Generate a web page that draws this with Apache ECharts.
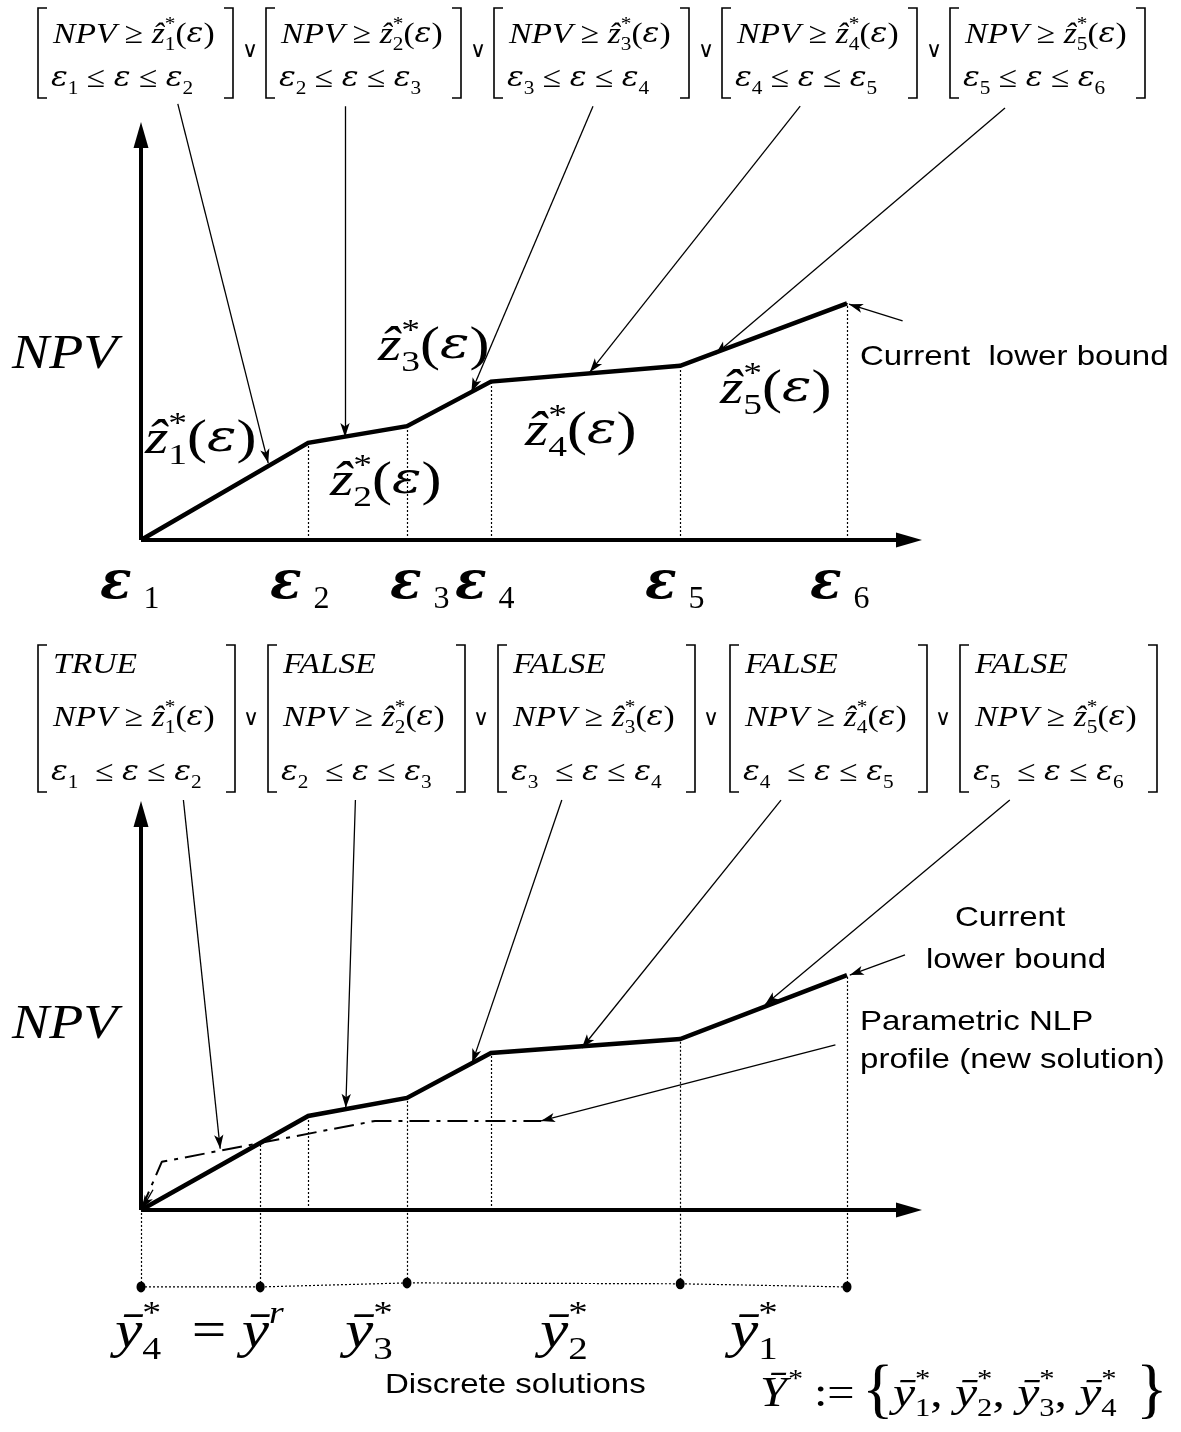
<!DOCTYPE html>
<html>
<head>
<meta charset="utf-8">
<script src="https://cdn.jsdelivr.net/npm/echarts@6/dist/echarts.min.js"></script>
<style>
  html, body { margin: 0; padding: 0; background: #fff; }
  #chart { width: 1181px; height: 1432px; }
</style>
</head>
<body>
<div id="chart"></div>
<script>
// ε breakpoints ε1..ε6 (horizontal units, shared by both panels)
const epsBreaks = [0, 2.09, 3.325, 4.375, 6.74, 8.825];
// piecewise-linear lower bound on NPV at each breakpoint
const lowerBoundTop = [0, 21.6, 25.3, 35.2, 38.7, 52.6];
const lowerBoundBottom = [0, 20.9, 24.9, 34.9, 38.0, 52.2];
// parametric NLP profile of the new discrete solution (dash-dot curve)
const nlpProfileX = [0, 0.26, 2.925, 5.0];
const nlpProfileY = [0, 10.7, 19.8, 19.8];
// discrete solutions marked below the ε axis
const solutionX = [0, 1.49, 3.325, 6.74, 8.825];
const solutionY = [-17.1, -17.1, -16.2, -16.4, -17.1];
// point where the new profile crosses the current lower bound
const crossingX = 1.49;
const crossingY = 14.9;
// axis extents (arrow positions)
const axisEndX = 9.6;
const axisEndYTop = 90;
const axisEndYBottom = 88;
// annotation arrows: [from, to]
const topArrows = [
  [[0.46, 96.9], [1.59, 17.1]],
  [[2.55, 96.4], [2.55, 22.9]],
  [[5.65, 96.4], [4.13, 32.9]],
  [[8.24, 96.4], [5.61, 37.3]],
  [[10.8, 96.0], [7.18, 41.3]],
  [[9.52, 48.7], [8.85, 52.4]]
];
const bottomArrows = [
  [[0.53, 91.1], [0.99, 13.6]],
  [[2.68, 91.1], [2.56, 22.7]],
  [[5.26, 91.1], [4.14, 32.7]],
  [[8.00, 91.1], [5.51, 36.0]],
  [[10.86, 91.1], [7.80, 45.6]],
  [[9.55, 56.7], [8.86, 52.2]],
  [[8.68, 36.7], [5.00, 19.8]],
  [[0.15, 4.5], [0.01, 0.2]]
];

const SERIF = "'Liberation Serif', 'DejaVu Serif', serif";
const GREEK = "'DejaVu Serif', 'Liberation Serif', serif";
const SANS = "'Liberation Sans', Arial, sans-serif";

const pairs = (xs, ys) => xs.map((x, i) => [x, ys[i]]);
const segs = list => list.map(([a, b]) => [{ coord: a }, { coord: b }]);

// hosts a set of marker lines on a panel
function lineSet(panel, data, symbol, size, lineStyle, z) {
  return {
    type: 'line', xAxisIndex: panel, yAxisIndex: panel, data: [], silent: true, z: z,
    markLine: {
      silent: true, animation: false, symbol: symbol, symbolSize: size,
      label: { show: false }, emphasis: { disabled: true },
      lineStyle: lineStyle, data: data
    }
  };
}

const dotted = { color: '#000', width: 1.2, type: [2, 2] };
const thin = { color: '#000', width: 1.3, type: 'solid' };
const thick = { color: '#000', width: 4, type: 'solid' };

const topDrops = epsBreaks.slice(1).map((x, i) => [[x, 0], [x, lowerBoundTop[i + 1]]]);
const bottomDrops = [
  [[solutionX[0], solutionY[0]], [0, 0]],
  [[crossingX, solutionY[1]], [crossingX, crossingY]],
  [[epsBreaks[1], 0], [epsBreaks[1], lowerBoundBottom[1]]],
  [[epsBreaks[2], solutionY[2]], [epsBreaks[2], lowerBoundBottom[2]]],
  [[epsBreaks[3], 0], [epsBreaks[3], lowerBoundBottom[3]]],
  [[epsBreaks[4], solutionY[3]], [epsBreaks[4], lowerBoundBottom[4]]],
  [[epsBreaks[5], solutionY[4]], [epsBreaks[5], lowerBoundBottom[5]]]
];

// ---------- text helpers ----------
function mathRich(s) {
  const lh = Math.round(s * 1.3);
  const small = Math.round(s * 0.62);
  return {
    it: { fontFamily: SERIF, fontStyle: 'italic', fontSize: s, lineHeight: lh },
    ep: { fontFamily: GREEK, fontStyle: 'italic', fontSize: Math.round(s * 0.92), lineHeight: lh },
    rm: { fontFamily: SERIF, fontSize: s, lineHeight: lh },
    sup: { fontFamily: SERIF, fontSize: small, lineHeight: small, verticalAlign: 'top', width: 0 },
    supw: { fontFamily: SERIF, fontStyle: 'italic', fontSize: small, lineHeight: small, verticalAlign: 'top' },
    sub: { fontFamily: SERIF, fontSize: small, lineHeight: small, verticalAlign: 'bottom' }
  };
}
function txt(x, y, text, rich, sx) {
  return {
    type: 'text', x: x, y: y, scaleX: sx || 1, silent: true, z: 100,
    style: {
      text: text, rich: rich, fill: '#000',
      align: 'left', verticalAlign: 'middle', textAlign: 'left', textVerticalAlign: 'middle'
    }
  };
}
function plain(x, y, text, font, align, sx) {
  return {
    type: 'text', x: x, y: y, scaleX: sx || 1, silent: true, z: 100,
    style: {
      text: text, font: font, fill: '#000',
      align: align || 'left', verticalAlign: 'middle',
      textAlign: align || 'left', textVerticalAlign: 'middle'
    }
  };
}
function bracket(x, top, bottom, dir) {
  return {
    type: 'polyline', silent: true, z: 100,
    shape: { points: [[x + 9 * dir, top], [x, top], [x, bottom], [x + 9 * dir, bottom]] },
    style: { stroke: '#000', lineWidth: 1.6, fill: null }
  };
}

const graphics = [];
const boxRich = mathRich(30);
const BOX_SX = 1.12;

// top-panel disjunction boxes
const topBoxLeft = [38, 266, 494, 722, 950];
topBoxLeft.forEach((L, i) => {
  const R = L + 195;
  graphics.push(bracket(L, 8, 98, 1), bracket(R, 8, 98, -1));
  graphics.push(txt(L + 15, 35,
    `{it|NPV}{rm| ≥ }{it|ẑ}{sup|*}{sub|${i + 1}}{rm|(}{ep|ε}{rm|)}`, boxRich, BOX_SX));
  graphics.push(txt(L + 13, 79,
    `{ep|ε}{sub|${i + 1}}{rm| ≤ }{ep|ε}{rm| ≤ }{ep|ε}{sub|${i + 2}}`, boxRich, BOX_SX));
  if (i < 4) graphics.push(plain(L + 212, 51, '∨', `22px ${GREEK}`, 'center'));
});

// bottom-panel disjunction boxes
const bottomBoxLeft = [38, 268, 498, 730, 960];
const bottomFlags = ['TRUE', 'FALSE', 'FALSE', 'FALSE', 'FALSE'];
bottomBoxLeft.forEach((L, i) => {
  const R = L + 197;
  graphics.push(bracket(L, 645, 792, 1), bracket(R, 645, 792, -1));
  graphics.push(txt(L + 15, 665, `{it|${bottomFlags[i]}}`, boxRich, BOX_SX));
  graphics.push(txt(L + 15, 718,
    `{it|NPV}{rm| ≥ }{it|ẑ}{sup|*}{sub|${i + 1}}{rm|(}{ep|ε}{rm|)}`, boxRich, BOX_SX));
  graphics.push(txt(L + 13, 773,
    `{ep|ε}{sub|${i + 1}}{rm|  ≤ }{ep|ε}{rm| ≤ }{ep|ε}{sub|${i + 2}}`, boxRich, BOX_SX));
  if (i < 4) graphics.push(plain(L + 213, 719, '∨', `22px ${GREEK}`, 'center'));
});

// NPV axis titles
const npvRich = mathRich(48);
graphics.push(txt(12, 355, '{it|NPV}', npvRich, 1.16));
graphics.push(txt(12, 1025, '{it|NPV}', npvRich, 1.16));

// segment labels ẑ_i*(ε)
const bigRich = mathRich(48);
const zLabels = [[145, 440, 1], [330, 482, 2], [378, 347, 3], [525, 432, 4], [720, 390, 5]];
zLabels.forEach(([x, y, k]) => {
  graphics.push(txt(x, y, `{it|ẑ}{sup|*}{sub|${k}}{rm|(}{ep|ε}{rm|)}`, bigRich, 1.25));
});

// ε tick labels under the top axis
const epsRich = {
  e: { fontFamily: GREEK, fontStyle: 'italic', fontWeight: 'bold', fontSize: 52, lineHeight: 64 },
  s: { fontFamily: SERIF, fontSize: 32, lineHeight: 32, verticalAlign: 'bottom', padding: [0, 0, 0, 12] }
};
const epsLabelX = [100, 270, 390, 455, 645, 810];
epsLabelX.forEach((x, i) => {
  graphics.push(txt(x, 584, `{e|ε}{s|${i + 1}}`, epsRich));
});

// side notes
const NOTE = `28px ${SANS}`;
const NOTE_SX = 1.18;
graphics.push(plain(860, 357, 'Current  lower bound', NOTE, 'left', NOTE_SX));
graphics.push(plain(1010, 918, 'Current', NOTE, 'center', NOTE_SX));
graphics.push(plain(1016, 960, 'lower bound', NOTE, 'center', NOTE_SX));
graphics.push(plain(860, 1022, 'Parametric NLP', NOTE, 'left', NOTE_SX));
graphics.push(plain(860, 1060, 'profile (new solution)', NOTE, 'left', NOTE_SX));
graphics.push(plain(385, 1385, 'Discrete solutions', NOTE, 'left', NOTE_SX));

// discrete-solution labels
const yRich = mathRich(52);
graphics.push(txt(115, 1333, '{it|ȳ}{sup|*}{sub|4}{rm|  = }{it|ȳ}{supw|r}', yRich, 1.18));
graphics.push(txt(345, 1333, '{it|ȳ}{sup|*}{sub|3}', yRich, 1.22));
graphics.push(txt(540, 1333, '{it|ȳ}{sup|*}{sub|2}', yRich, 1.22));
graphics.push(txt(730, 1333, '{it|ȳ}{sup|*}{sub|1}', yRich, 1.22));

// set of discrete solutions
const setRich = mathRich(42);
graphics.push(txt(760, 1395, '{it|Ȳ}{supw|*}{rm| :=}', setRich, 1.15));
graphics.push(plain(862, 1393, '{', `66px ${SERIF}`));
graphics.push(txt(893, 1395,
  '{it|ȳ}{sup|*}{sub|1}{rm|, }{it|ȳ}{sup|*}{sub|2}{rm|, }{it|ȳ}{sup|*}{sub|3}{rm|, }{it|ȳ}{sup|*}{sub|4}',
  setRich, 1.18));
graphics.push(plain(1136, 1393, '}', `66px ${SERIF}`));

const chart = echarts.init(document.getElementById('chart'), null, { renderer: 'canvas' });
chart.setOption({
  animation: false,
  backgroundColor: '#fff',
  grid: [
    { left: 141, top: 90, width: 1040, height: 450 },
    { left: 141, top: 782.5, width: 1040, height: 517.5 }
  ],
  xAxis: [
    { gridIndex: 0, type: 'value', min: 0, max: 13, show: false },
    { gridIndex: 1, type: 'value', min: 0, max: 13, show: false }
  ],
  yAxis: [
    { gridIndex: 0, type: 'value', min: 0, max: 100, show: false },
    { gridIndex: 1, type: 'value', min: -20, max: 95, show: false }
  ],
  series: [
    // top panel
    lineSet(0, segs(topDrops), 'none', 0, dotted, 2),
    lineSet(0, segs([[[0, 0], [axisEndX, 0]], [[0, 0], [0, axisEndYTop]]]),
      ['none', 'triangle'], [15, 26], thick, 3),
    lineSet(0, segs(topArrows), ['none', 'arrow'], [7, 14], thin, 4),
    {
      type: 'line', xAxisIndex: 0, yAxisIndex: 0, z: 5, silent: true,
      data: pairs(epsBreaks, lowerBoundTop), symbol: 'none',
      lineStyle: { color: '#000', width: 4.5, join: 'miter' }
    },
    // bottom panel
    lineSet(1, segs(bottomDrops), 'none', 0, dotted, 2),
    lineSet(1, segs([[[0, 0], [axisEndX, 0]], [[0, 0], [0, axisEndYBottom]]]),
      ['none', 'triangle'], [15, 26], thick, 3),
    lineSet(1, segs(bottomArrows), ['none', 'arrow'], [7, 14], thin, 4),
    {
      type: 'line', xAxisIndex: 1, yAxisIndex: 1, z: 5, silent: true,
      data: pairs(epsBreaks, lowerBoundBottom), symbol: 'none',
      lineStyle: { color: '#000', width: 4.5, join: 'miter' }
    },
    {
      type: 'line', xAxisIndex: 1, yAxisIndex: 1, z: 4, silent: true,
      data: pairs(nlpProfileX, nlpProfileY), symbol: 'none',
      lineStyle: { color: '#000', width: 2, type: [20, 7, 4, 7] }
    },
    {
      type: 'line', xAxisIndex: 1, yAxisIndex: 1, z: 4, silent: true,
      data: pairs(solutionX, solutionY), symbol: 'circle', symbolSize: [9, 11],
      itemStyle: { color: '#000' },
      lineStyle: { color: '#000', width: 1.2, type: [2, 2] }
    }
  ],
  graphic: graphics
});
</script>
</body>
</html>
